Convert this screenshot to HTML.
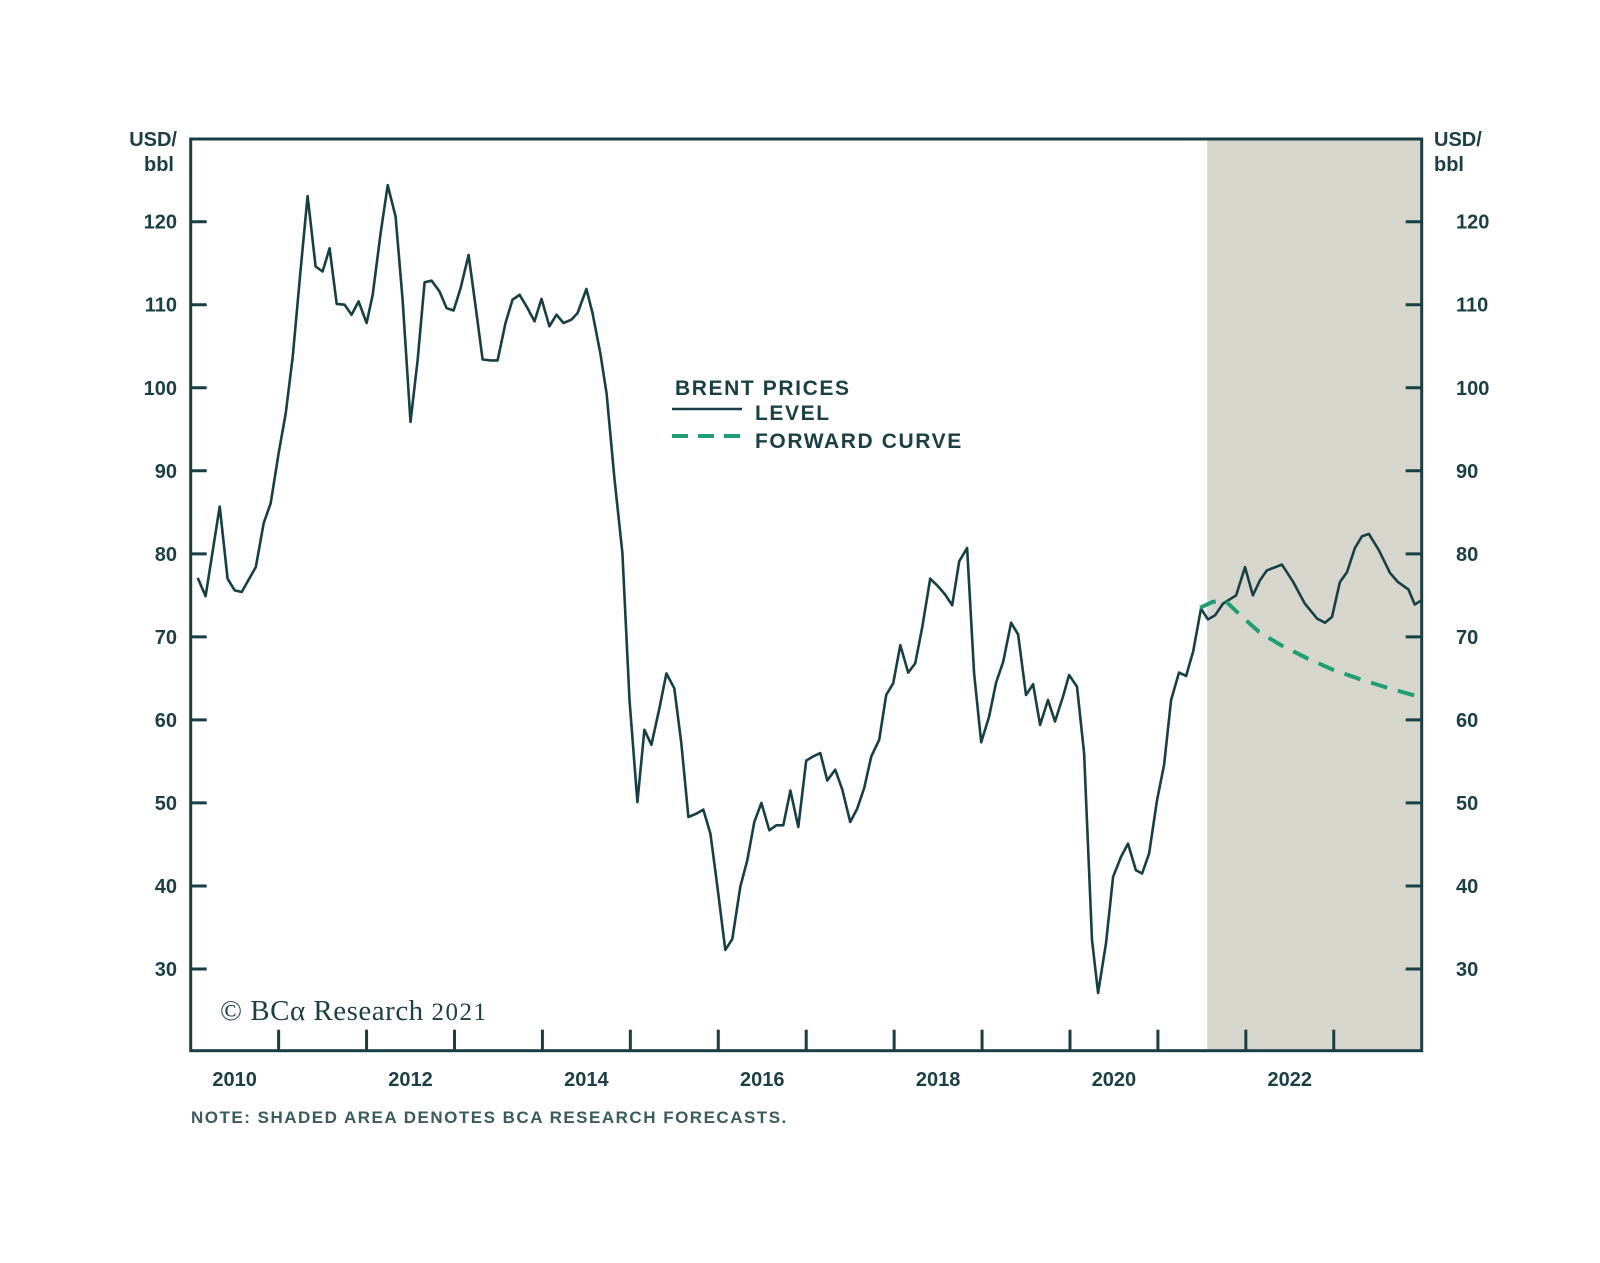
<!DOCTYPE html>
<html><head><meta charset="utf-8"><style>
html,body{margin:0;padding:0;background:#fff;}
svg{display:block;font-family:"Liberation Sans",sans-serif;}
</style></head><body>
<svg id="chart" width="1600" height="1263" viewBox="0 0 1600 1263">
<g id="shade-layer"></g><g id="axes"></g><g id="series"></g><g id="labels"></g>
<g fill="#1b3f45" font-size="21" font-weight="bold" letter-spacing="1.6">
<text x="675" y="395">BRENT PRICES</text>
<line x1="672" y1="409" x2="742" y2="409" stroke="#173f44" stroke-width="2.5"/>
<text x="755" y="420">LEVEL</text>
<line x1="672" y1="436" x2="742" y2="436" stroke="#1f9e74" stroke-width="4" stroke-dasharray="16,10"/>
<text x="755" y="448">FORWARD CURVE</text>
</g>
<text x="220" y="1020" font-family="'Liberation Serif',serif" font-size="29" fill="#1b3f45" letter-spacing="0.5">© BCα Research <tspan font-size="25" letter-spacing="1.5">2021</tspan></text>
<text x="191" y="1123" font-size="17" font-weight="bold" fill="#3a5a5e" letter-spacing="1.5">NOTE: SHADED AREA DENOTES BCA RESEARCH FORECASTS.</text>
</svg>
<script>
const levelDates=[2010.08,2010.17,2010.33,2010.42,2010.50,2010.58,2010.66,2010.74,2010.83,2010.91,2011.0,2011.08,2011.16,2011.25,2011.33,2011.42,2011.50,2011.58,2011.66,2011.75,2011.83,2011.91,2012.0,2012.07,2012.16,2012.24,2012.33,2012.41,2012.50,2012.58,2012.66,2012.74,2012.83,2012.91,2012.99,2013.07,2013.16,2013.24,2013.32,2013.41,2013.49,2013.58,2013.66,2013.74,2013.83,2013.91,2013.99,2014.08,2014.16,2014.24,2014.33,2014.40,2014.50,2014.57,2014.66,2014.73,2014.82,2014.91,2014.99,2015.08,2015.16,2015.24,2015.33,2015.41,2015.50,2015.58,2015.66,2015.75,2015.83,2015.91,2015.99,2016.08,2016.16,2016.25,2016.33,2016.41,2016.49,2016.58,2016.66,2016.74,2016.82,2016.91,2017.0,2017.08,2017.16,2017.24,2017.33,2017.41,2017.50,2017.58,2017.66,2017.74,2017.83,2017.91,2017.99,2018.07,2018.16,2018.24,2018.32,2018.41,2018.49,2018.58,2018.66,2018.74,2018.83,2018.91,2018.99,2019.08,2019.16,2019.24,2019.33,2019.41,2019.50,2019.58,2019.66,2019.75,2019.83,2019.92,2019.99,2020.08,2020.16,2020.25,2020.32,2020.41,2020.49,2020.58,2020.66,2020.75,2020.82,2020.90,2020.99,2021.07,2021.15,2021.24,2021.32,2021.40,2021.49,2021.57,2021.65,2021.74,2021.89,2021.99,2022.08,2022.16,2022.24,2022.41,2022.54,2022.67,2022.81,2022.90,2022.98,2023.07,2023.15,2023.24,2023.32,2023.40,2023.51,2023.64,2023.73,2023.85,2023.92,2024.0];
const levelValues=[77.1,74.9,85.7,77.0,75.6,75.4,76.9,78.4,83.7,86.1,92.1,96.9,103.7,114.2,123.1,114.6,114.0,116.8,110.1,110.0,108.8,110.4,107.8,111.2,118.6,124.4,120.6,110.6,95.9,103.3,112.7,112.9,111.6,109.6,109.3,112.0,116.0,109.8,103.4,103.3,103.3,107.8,110.6,111.2,109.6,108.0,110.7,107.4,108.8,107.8,108.2,109.0,111.9,109.0,104.1,99.3,89,80.1,62.4,50.1,58.8,57.0,61.4,65.6,63.8,57.2,48.3,48.7,49.2,46.3,39.9,32.3,33.6,39.9,43.1,47.7,50.0,46.7,47.3,47.3,51.5,47.1,55.1,55.6,56.0,52.7,54.0,51.6,47.7,49.3,51.8,55.6,57.6,63.0,64.4,69.0,65.7,66.8,71.2,77.0,76.2,75.1,73.8,79.1,80.7,65.6,57.3,60.4,64.5,67.0,71.7,70.3,63.0,64.3,59.4,62.4,59.8,62.8,65.4,64.0,56.0,33.5,27.1,33.1,41.1,43.5,45.1,41.9,41.5,43.9,50.3,54.6,62.4,65.7,65.3,68.2,73.4,72.1,72.6,74.0,75.0,78.4,75.0,76.8,78.0,78.7,76.6,74.0,72.2,71.7,72.4,76.6,77.8,80.7,82.1,82.4,80.5,77.7,76.6,75.7,73.9,74.4];
const fwdDates=[2021.48,2021.62,2021.76,2021.95,2022.15,2022.4,2022.7,2023.0,2023.3,2023.6,2023.93];
const fwdValues=[73.5,74.2,74.4,72.5,70.6,69.0,67.4,66.0,64.9,63.9,62.9];
const yTicks=[30,40,50,60,70,80,90,100,110,120];
const yearLabels=[2010,2012,2014,2016,2018,2020,2022];
const forecastStart=2021.56;

const L=190.7,R=1421.7,T=139,B=1050.7;
const xS=t=>L+(t-2010)*(R-L)/14;
const yS=v=>221.7+(120-v)*83.03/10;
const NS='http://www.w3.org/2000/svg';
function mk(tag,attrs,parent){const e=document.createElementNS(NS,tag);for(const k in attrs)e.setAttribute(k,attrs[k]);parent.appendChild(e);return e;}
const shadeG=document.getElementById('shade-layer'),axG=document.getElementById('axes'),sG=document.getElementById('series'),lG=document.getElementById('labels');
const C='#173f44';
let sh=mk('rect',{x:xS(forecastStart),y:T,width:R-xS(forecastStart),height:B-T,fill:'#d6d6cd'},shadeG);


let fr=mk('rect',{x:L,y:T,width:R-L,height:B-T,fill:'none',stroke:C,'stroke-width':3},axG);


yTicks.forEach(v=>{
  const y=yS(v);
  let a=mk('line',{x1:L,x2:L+16,y1:y,y2:y,stroke:C,'stroke-width':3},axG);
  
  
  let b=mk('line',{x1:R-16,x2:R,y1:y,y2:y,stroke:C,'stroke-width':3},axG);
  
  
  let t1=mk('text',{x:177,y:y+7,'text-anchor':'end','font-size':20,'font-weight':'bold',fill:'#1b3f45'},lG);t1.textContent=v;
  
  
  let t2=mk('text',{x:1456,y:y+7,'font-size':20,'font-weight':'bold',fill:'#1b3f45'},lG);t2.textContent=v;
  
  
});
for(let yr=2011;yr<2024;yr++){
  const x=xS(yr);
  let tk=mk('line',{x1:x,x2:x,y1:B-21,y2:B,stroke:C,'stroke-width':3},axG);
  
  
}
yearLabels.forEach(yr=>{
  let t=mk('text',{x:xS(yr+0.5),y:1086,'text-anchor':'middle','font-size':20,'font-weight':'bold',fill:'#1b3f45'},lG);t.textContent=yr;
  
  
});
[[177,'end'],[1434,'start']].forEach(([x,a],i)=>{
  let t=mk('text',{x:x,y:146,'text-anchor':a,'font-size':20,'font-weight':'bold',fill:'#1b3f45'},lG);t.textContent='USD/';
  
  
  let t2=mk('text',{x:i?x:x-3,y:171,'text-anchor':a,'font-size':20,'font-weight':'bold',fill:'#1b3f45'},lG);t2.textContent='bbl';
  
  
});
let lp=mk('polyline',{points:levelDates.map((d,i)=>xS(d).toFixed(1)+','+yS(levelValues[i]).toFixed(1)).join(' '),fill:'none',stroke:C,'stroke-width':2.6,'stroke-linejoin':'round'},sG);


let fp=mk('polyline',{points:fwdDates.map((d,i)=>xS(d).toFixed(1)+','+yS(fwdValues[i]).toFixed(1)).join(' '),fill:'none',stroke:'#1f9e74','stroke-width':4,'stroke-dasharray':'17,11'},sG);


</script>
</body></html>
